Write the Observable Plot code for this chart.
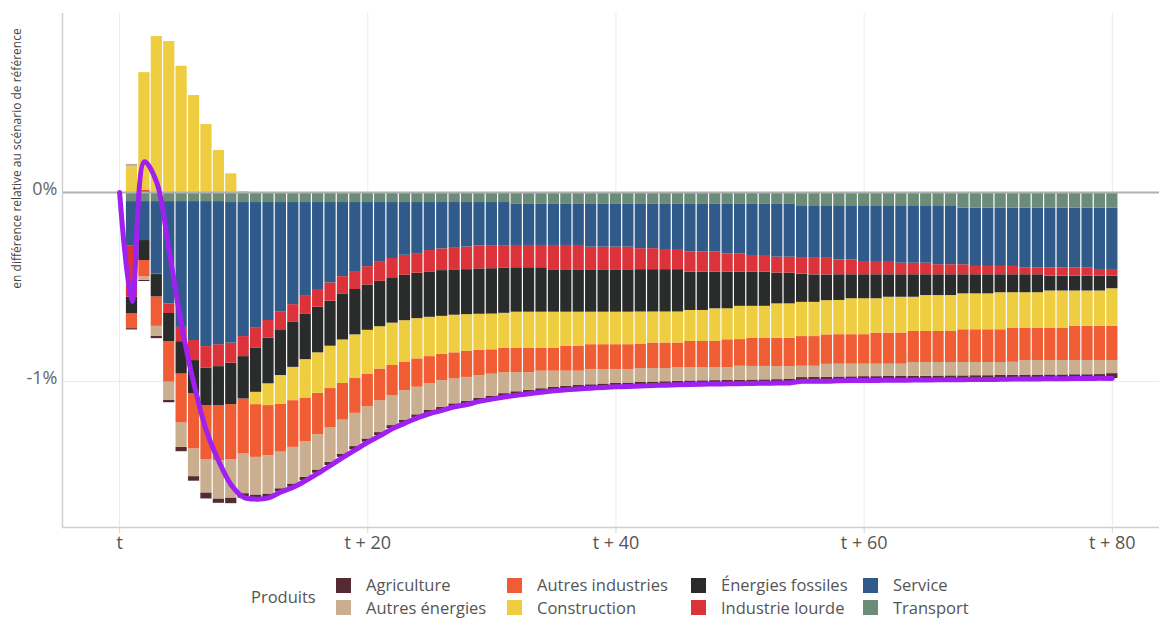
<!DOCTYPE html>
<html>
<head>
<meta charset="utf-8">
<script src="https://cdn.jsdelivr.net/npm/d3@7"></script>
<script src="https://cdn.jsdelivr.net/npm/@observablehq/plot@0.6"></script>
<style>
  body { margin: 0; background: #fff; font-family: "Open Sans", sans-serif; }
  #chart { position: relative; width: 1159px; height: 619px; overflow: hidden; }
  #legend { position: absolute; left: 0; top: 560px; width: 1159px; height: 59px; font-size: 16.5px; color: #555; }
  .lt { position: absolute; white-space: nowrap; line-height: 18px; }
  .sw { position: absolute; width: 15px; height: 15px; }
</style>
</head>
<body>
<div id="chart"></div>
<script>
// ---------- data (values in % of the reference scenario) ----------
const years = d3.range(0, 81);

const transport = [
  0, -0.048, -0.048, -0.048, -0.048, -0.048, -0.048, -0.048, -0.048, -0.053,
  -0.053, -0.053, -0.053, -0.053, -0.053, -0.053, -0.053, -0.053, -0.053, -0.053,
  -0.053, -0.053, -0.053, -0.053, -0.053, -0.053, -0.053, -0.053, -0.053, -0.053,
  -0.053, -0.053, -0.063, -0.063, -0.063, -0.063, -0.063, -0.063, -0.063, -0.063,
  -0.063, -0.063, -0.063, -0.063, -0.063, -0.063, -0.063, -0.063, -0.063, -0.063,
  -0.063, -0.063, -0.063, -0.063, -0.063, -0.074, -0.074, -0.074, -0.074, -0.074,
  -0.074, -0.074, -0.074, -0.074, -0.074, -0.074, -0.074, -0.074, -0.083, -0.083,
  -0.083, -0.083, -0.083, -0.083, -0.083, -0.083, -0.083, -0.083, -0.083, -0.083,
  -0.083
];
const service = [
  0, -0.233, -0.206, -0.381, -0.541, -0.665, -0.735, -0.767, -0.757, -0.744,
  -0.709, -0.665, -0.624, -0.580, -0.540, -0.496, -0.460, -0.425, -0.392, -0.365,
  -0.339, -0.316, -0.296, -0.279, -0.270, -0.254, -0.245, -0.242, -0.235, -0.229,
  -0.228, -0.228, -0.217, -0.217, -0.217, -0.217, -0.217, -0.217, -0.226, -0.226,
  -0.226, -0.226, -0.234, -0.234, -0.243, -0.243, -0.252, -0.252, -0.252, -0.261,
  -0.261, -0.270, -0.270, -0.279, -0.279, -0.274, -0.274, -0.274, -0.282, -0.282,
  -0.291, -0.291, -0.291, -0.300, -0.300, -0.300, -0.308, -0.308, -0.299, -0.308,
  -0.308, -0.308, -0.308, -0.315, -0.315, -0.315, -0.315, -0.315, -0.315, -0.324,
  -0.324
];
const industrieLourde = [
  0, -0.273, 0.010, -0.005, -0.051, -0.076, -0.106, -0.113, -0.116, -0.106,
  -0.106, -0.104, -0.094, -0.097, -0.094, -0.093, -0.094, -0.097, -0.094, -0.095,
  -0.097, -0.101, -0.102, -0.106, -0.104, -0.113, -0.115, -0.114, -0.120, -0.122,
  -0.122, -0.118, -0.118, -0.118, -0.118, -0.129, -0.129, -0.129, -0.120, -0.120,
  -0.120, -0.120, -0.111, -0.111, -0.102, -0.102, -0.106, -0.106, -0.106, -0.097,
  -0.097, -0.088, -0.088, -0.084, -0.084, -0.084, -0.088, -0.088, -0.079, -0.079,
  -0.070, -0.070, -0.070, -0.061, -0.061, -0.061, -0.053, -0.053, -0.053, -0.044,
  -0.044, -0.044, -0.044, -0.037, -0.037, -0.044, -0.044, -0.044, -0.044, -0.035,
  -0.035
];
const energiesFossiles = [
  0, -0.088, -0.106, -0.118, -0.148, -0.171, -0.176, -0.199, -0.206, -0.219,
  -0.224, -0.235, -0.241, -0.238, -0.238, -0.242, -0.241, -0.238, -0.241, -0.240,
  -0.240, -0.240, -0.240, -0.240, -0.240, -0.240, -0.242, -0.240, -0.238, -0.240,
  -0.240, -0.240, -0.235, -0.235, -0.235, -0.224, -0.224, -0.224, -0.224, -0.224,
  -0.224, -0.224, -0.224, -0.224, -0.224, -0.224, -0.203, -0.203, -0.194, -0.194,
  -0.181, -0.181, -0.181, -0.163, -0.163, -0.149, -0.145, -0.136, -0.136, -0.127,
  -0.127, -0.127, -0.119, -0.119, -0.119, -0.110, -0.110, -0.110, -0.101, -0.101,
  -0.101, -0.095, -0.095, -0.095, -0.095, -0.079, -0.079, -0.079, -0.079, -0.079,
  -0.067
];
const construction = [
  0, 0.134, 0.624, 0.825, 0.799, 0.668, 0.513, 0.360, 0.222, 0.099,
  0.005, -0.065, -0.115, -0.153, -0.176, -0.203, -0.214, -0.224, -0.230, -0.231,
  -0.231, -0.224, -0.224, -0.221, -0.213, -0.208, -0.201, -0.199, -0.194, -0.190,
  -0.189, -0.185, -0.190, -0.190, -0.190, -0.190, -0.181, -0.181, -0.172, -0.172,
  -0.172, -0.172, -0.172, -0.164, -0.164, -0.164, -0.164, -0.164, -0.173, -0.164,
  -0.176, -0.168, -0.168, -0.182, -0.182, -0.181, -0.181, -0.181, -0.181, -0.190,
  -0.190, -0.182, -0.190, -0.190, -0.181, -0.190, -0.190, -0.190, -0.190, -0.190,
  -0.190, -0.196, -0.187, -0.187, -0.187, -0.196, -0.196, -0.187, -0.187, -0.187,
  -0.199
];
const autresIndustries = [
  0, -0.078, -0.086, -0.156, -0.215, -0.259, -0.291, -0.287, -0.291, -0.291,
  -0.291, -0.279, -0.265, -0.252, -0.247, -0.230, -0.219, -0.208, -0.194, -0.184,
  -0.173, -0.168, -0.159, -0.150, -0.150, -0.144, -0.139, -0.138, -0.138, -0.134,
  -0.129, -0.130, -0.130, -0.130, -0.122, -0.122, -0.131, -0.131, -0.131, -0.131,
  -0.131, -0.131, -0.127, -0.135, -0.135, -0.130, -0.139, -0.139, -0.139, -0.148,
  -0.141, -0.150, -0.150, -0.150, -0.150, -0.157, -0.157, -0.156, -0.156, -0.156,
  -0.156, -0.164, -0.164, -0.164, -0.164, -0.164, -0.164, -0.164, -0.173, -0.173,
  -0.173, -0.173, -0.181, -0.172, -0.172, -0.172, -0.172, -0.181, -0.181, -0.181,
  -0.181
];
const autresEnergies = [
  0, 0.015, -0.018, -0.052, -0.097, -0.129, -0.147, -0.175, -0.203, -0.203,
  -0.210, -0.199, -0.203, -0.194, -0.194, -0.190, -0.187, -0.182, -0.180, -0.176,
  -0.171, -0.168, -0.159, -0.155, -0.146, -0.141, -0.141, -0.132, -0.127, -0.121,
  -0.116, -0.110, -0.101, -0.093, -0.093, -0.086, -0.080, -0.076, -0.081, -0.077,
  -0.074, -0.072, -0.074, -0.072, -0.070, -0.073, -0.070, -0.069, -0.068, -0.067,
  -0.074, -0.072, -0.071, -0.069, -0.068, -0.060, -0.059, -0.069, -0.068, -0.067,
  -0.066, -0.066, -0.065, -0.065, -0.073, -0.073, -0.072, -0.071, -0.071, -0.070,
  -0.070, -0.069, -0.069, -0.077, -0.077, -0.076, -0.076, -0.075, -0.075, -0.074,
  -0.069
];
const agriculture = [
  0, -0.007, -0.007, -0.013, -0.012, -0.023, -0.024, -0.032, -0.023, -0.030,
  -0.024, -0.022, -0.020, -0.017, -0.017, -0.017, -0.017, -0.017, -0.017, -0.017,
  -0.017, -0.016, -0.016, -0.016, -0.016, -0.016, -0.016, -0.016, -0.016, -0.016,
  -0.016, -0.018, -0.018, -0.018, -0.018, -0.018, -0.018, -0.018, -0.018, -0.018,
  -0.018, -0.018, -0.018, -0.018, -0.018, -0.018, -0.018, -0.018, -0.018, -0.018,
  -0.018, -0.018, -0.018, -0.018, -0.018, -0.020, -0.020, -0.020, -0.020, -0.020,
  -0.020, -0.020, -0.020, -0.020, -0.020, -0.020, -0.020, -0.020, -0.020, -0.020,
  -0.020, -0.020, -0.020, -0.020, -0.020, -0.020, -0.020, -0.020, -0.020, -0.020,
  -0.026
];

const seriesNames = ["Agriculture", "Autres énergies", "Autres industries", "Construction",
                     "Énergies fossiles", "Industrie lourde", "Service", "Transport"];
const seriesValues = [agriculture, autresEnergies, autresIndustries, construction,
                      energiesFossiles, industrieLourde, service, transport];
const seriesColors = ["#552a30", "#c9af8f", "#f05d34", "#eecd40",
                      "#2a2c2b", "#dc333b", "#305a89", "#6a8c78"];
// stacking order, from the zero line outwards
const stackOrder = ["Transport", "Service", "Industrie lourde", "Énergies fossiles",
                    "Construction", "Autres industries", "Autres énergies", "Agriculture"];

const xTicks = [0, 20, 40, 60, 80];
const xTickLabels = ["t", "t + 20", "t + 40", "t + 60", "t + 80"];
const yTicks = [0, -1];
const yTickLabels = ["0%", "-1%"];
const yTitle = "en différence relative au scénario de référence";
const legendTitle = "Produits";

// ---------- build tables ----------
const rows = [];
seriesNames.forEach((s, k) => years.forEach((t, i) => rows.push({t, series: s, value: seriesValues[k][i]})));
const totals = years.map((t, i) => ({t, total: d3.sum(seriesValues, v => v[i])}));

const xDomain = [-4.6, 83.8];
const yDomain = [-1.772, 0.947];

const chart = Plot.plot({
  width: 1159,
  height: 560,
  marginLeft: 62,
  marginRight: 0,
  marginTop: 13,
  marginBottom: 33,
  style: {fontFamily: "'Open Sans', sans-serif", fontSize: "18px", color: "#555", background: "#fff", overflow: "visible"},
  x: {domain: xDomain, label: null},
  y: {domain: yDomain, label: null},
  color: {domain: seriesNames, range: seriesColors},
  marks: [
    Plot.ruleX(xTicks, {stroke: "#ebebeb", strokeWidth: 1}),
    Plot.ruleY([-1], {stroke: "#ebebeb", strokeWidth: 1}),
    Plot.rect(rows, Plot.stackY({
      x: "t",
      x1: d => d.t - 0.5,
      x2: d => d.t + 0.5,
      y: "value",
      fill: "series",
      order: stackOrder,
      insetLeft: 0.6,
      insetRight: 0.6
    })),
    Plot.ruleY([0], {stroke: "#b0b0b0", strokeWidth: 2}),
    Plot.line(totals, {x: "t", y: "total", stroke: "#a020f0", strokeWidth: 5, curve: "catmull-rom"}),
    Plot.ruleX([xDomain[0]], {stroke: "#cfcfcf", strokeWidth: 1.5}),
    Plot.ruleY([yDomain[0]], {stroke: "#cfcfcf", strokeWidth: 1.5}),
    Plot.axisX(xTicks, {
      label: null,
      tickFormat: d => xTickLabels[xTicks.indexOf(d)],
      tickSize: 6, tickPadding: 3, stroke: "#d5d5d5", fill: "#555", fontSize: 18
    }),
    Plot.axisY(yTicks, {
      label: null,
      tickFormat: d => yTickLabels[yTicks.indexOf(d)],
      tickSize: 0, tickPadding: 5, dy: -3.5, fill: "#666", fontSize: 18
    }),
    Plot.text([yTitle], {
      text: d => d, frameAnchor: "left", dx: -45, dy: -112, rotate: -90,
      textAnchor: "middle", fontSize: 12, fill: "#444"
    })
  ]
});
document.getElementById("chart").appendChild(chart);

// ---------- legend (HTML, below the SVG) ----------
const legend = document.createElement("div");
legend.id = "legend";
const title = document.createElement("div");
title.className = "lt";
title.style.left = "251px";
title.style.top = (36.5 - 9) + "px";
title.textContent = legendTitle;
legend.appendChild(title);
const colX = [336, 507, 691, 863];
const rowY = [25, 47.5];
seriesNames.forEach((s, k) => {
  const col = Math.floor(k / 2), row = k % 2;
  const sw = document.createElement("div");
  sw.className = "sw";
  sw.style.left = colX[col] + "px";
  sw.style.top = (rowY[row] - 7.5) + "px";
  sw.style.background = seriesColors[k];
  legend.appendChild(sw);
  const lt = document.createElement("div");
  lt.className = "lt";
  lt.style.left = (colX[col] + 30) + "px";
  lt.style.top = (rowY[row] - 9) + "px";
  lt.textContent = s;
  legend.appendChild(lt);
});
document.getElementById("chart").appendChild(legend);
</script>
</body>
</html>
